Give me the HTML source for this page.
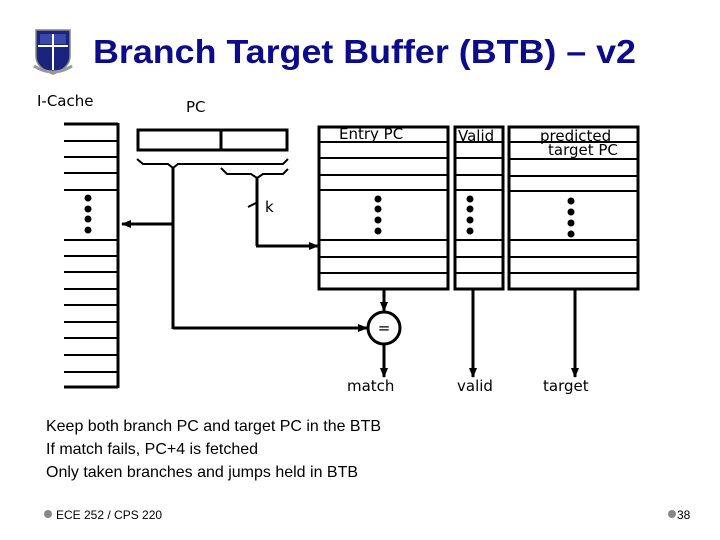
<!DOCTYPE html>
<html><head><meta charset="utf-8"><style>
html,body{margin:0;padding:0;background:#fff;}
body{width:720px;height:540px;overflow:hidden;}
svg{display:block}
</style></head><body>
<svg width="720" height="540" viewBox="0 0 720 540" xmlns="http://www.w3.org/2000/svg">
<defs>
<marker id="ah" markerWidth="10" markerHeight="10" refX="9" refY="5" orient="auto" markerUnits="userSpaceOnUse">
<path d="M0,1 L10,5 L0,9 Z" fill="#000"/></marker>
</defs>
<g>
<path d="M36,30 L70,30 L70,56 Q70,68 53,74 Q36,68 36,56 Z" fill="#1a237e" stroke="#888" stroke-width="1.5"/>
<rect x="40" y="34" width="26" height="10" fill="#3949ab"/>
<line x1="53" y1="34" x2="53" y2="70" stroke="#fff" stroke-width="2"/>
<line x1="38" y1="46" x2="68" y2="46" stroke="#fff" stroke-width="2"/>
<path d="M34,66 Q53,78 72,66" stroke="#999" stroke-width="3" fill="none"/>
</g>
<text x="93" y="63" font-family="Liberation Sans, sans-serif" font-weight="bold" font-size="33" fill="#0b0b8c" textLength="543" lengthAdjust="spacingAndGlyphs">Branch Target Buffer (BTB) – v2</text>
<g font-family="DejaVu Sans, sans-serif" font-size="15" fill="#000">
<text x="37" y="106">I-Cache</text>
<text x="186" y="112">PC</text>
<text x="339" y="139">Entry PC</text>
<text x="458" y="141">Valid</text>
<text x="540" y="141">predicted</text>
<text x="548" y="155">target PC</text>
<text x="265" y="212">k</text>
<text x="347" y="391">match</text>
<text x="457" y="391">valid</text>
<text x="543" y="391">target</text>
</g>
<g stroke="#000" stroke-width="3" fill="none">
<line x1="64" y1="124" x2="118" y2="124"/>
<line x1="118" y1="123" x2="118" y2="388"/>
<line x1="64" y1="387" x2="118" y2="387"/>
</g>
<g stroke="#000" stroke-width="2">
<line x1="64" y1="141" x2="118" y2="141"/><line x1="64" y1="157" x2="118" y2="157"/>
<line x1="64" y1="173" x2="118" y2="173"/><line x1="64" y1="190" x2="118" y2="190"/>
<line x1="64" y1="240" x2="118" y2="240"/><line x1="64" y1="256" x2="118" y2="256"/>
<line x1="64" y1="272" x2="118" y2="272"/><line x1="64" y1="289" x2="118" y2="289"/>
<line x1="64" y1="305" x2="118" y2="305"/><line x1="64" y1="322" x2="118" y2="322"/>
<line x1="64" y1="338" x2="118" y2="338"/><line x1="64" y1="355" x2="118" y2="355"/>
<line x1="64" y1="372" x2="118" y2="372"/>
</g>
<g fill="#000">
<circle cx="88" cy="198" r="3.5"/><circle cx="88" cy="209" r="3.5"/><circle cx="88" cy="219" r="3.5"/><circle cx="88" cy="230" r="3.5"/>
<circle cx="378" cy="199" r="3.5"/><circle cx="378" cy="209" r="3.5"/><circle cx="378" cy="220" r="3.5"/><circle cx="378" cy="231" r="3.5"/>
<circle cx="470" cy="199" r="3.5"/><circle cx="470" cy="209" r="3.5"/><circle cx="470" cy="220" r="3.5"/><circle cx="470" cy="231" r="3.5"/>
<circle cx="571" cy="201" r="3.5"/><circle cx="571" cy="212" r="3.5"/><circle cx="571" cy="223" r="3.5"/><circle cx="571" cy="234" r="3.5"/>
</g>
<g stroke="#000" stroke-width="3" fill="none">
<rect x="138" y="130" width="149" height="20"/>
<line x1="221" y1="130" x2="221" y2="150"/>
<rect x="319" y="127" width="129" height="162"/>
<rect x="455" y="127" width="48" height="162"/>
<rect x="509" y="127" width="129" height="162"/>
</g>
<g stroke="#000" stroke-width="2">
<line x1="319" y1="142" x2="448" y2="142"/><line x1="319" y1="158" x2="448" y2="158"/>
<line x1="319" y1="175" x2="448" y2="175"/><line x1="319" y1="190" x2="448" y2="190"/>
<line x1="319" y1="240" x2="448" y2="240"/><line x1="319" y1="257" x2="448" y2="257"/>
<line x1="319" y1="273" x2="448" y2="273"/>
<line x1="455" y1="142" x2="503" y2="142"/><line x1="455" y1="158" x2="503" y2="158"/>
<line x1="455" y1="175" x2="503" y2="175"/><line x1="455" y1="190" x2="503" y2="190"/>
<line x1="455" y1="240" x2="503" y2="240"/><line x1="455" y1="257" x2="503" y2="257"/>
<line x1="455" y1="273" x2="503" y2="273"/>
<line x1="509" y1="142" x2="638" y2="142"/><line x1="509" y1="159" x2="638" y2="159"/>
<line x1="509" y1="176" x2="638" y2="176"/><line x1="509" y1="191" x2="638" y2="191"/>
<line x1="509" y1="240" x2="638" y2="240"/><line x1="509" y1="257" x2="638" y2="257"/>
<line x1="509" y1="273" x2="638" y2="273"/>
</g>
<g stroke="#000" stroke-width="2" fill="none">
<polyline points="137,159 143,164 168,164 173,168 178,164 283,164 288,159"/>
<polyline points="221,168 227,174 251,174 257,178 263,174 283,174 288,169"/>
<line x1="248" y1="207" x2="258" y2="202"/>
</g>
<g stroke="#000" stroke-width="3" fill="none">
<line x1="173" y1="167" x2="173" y2="329"/>
<line x1="173" y1="224" x2="122" y2="224" marker-end="url(#ah)"/>
<line x1="173" y1="328" x2="367" y2="328" marker-end="url(#ah)"/>
<line x1="257" y1="177" x2="257" y2="246"/>
<line x1="256" y1="246" x2="318" y2="246" marker-end="url(#ah)"/>
<line x1="384" y1="289" x2="384" y2="311" marker-end="url(#ah)"/>
<circle cx="384" cy="328" r="16"/>
<line x1="384" y1="344" x2="384" y2="377" marker-end="url(#ah)"/>
<line x1="473" y1="289" x2="473" y2="377" marker-end="url(#ah)"/>
<line x1="575" y1="289" x2="575" y2="377" marker-end="url(#ah)"/>
</g>
<text x="384" y="333" font-family="DejaVu Sans, sans-serif" font-size="15" text-anchor="middle">=</text>
<g font-family="Liberation Sans, sans-serif" font-size="16" fill="#000">
<text x="46" y="431" textLength="335" lengthAdjust="spacingAndGlyphs">Keep both branch PC and target PC in the BTB</text>
<text x="46" y="454" textLength="212" lengthAdjust="spacingAndGlyphs">If match fails, PC+4 is fetched</text>
<text x="46" y="477" textLength="312" lengthAdjust="spacingAndGlyphs">Only taken branches and jumps held in BTB</text>
</g>
<circle cx="48" cy="514" r="4" fill="#888"/>
<text x="56" y="519" font-family="Liberation Sans, sans-serif" font-size="12" fill="#000">ECE 252 / CPS 220</text>
<circle cx="672" cy="514" r="4" fill="#888"/>
<text x="677" y="519" font-family="Liberation Sans, sans-serif" font-size="12" fill="#000">38</text>
</svg>
</body></html>
